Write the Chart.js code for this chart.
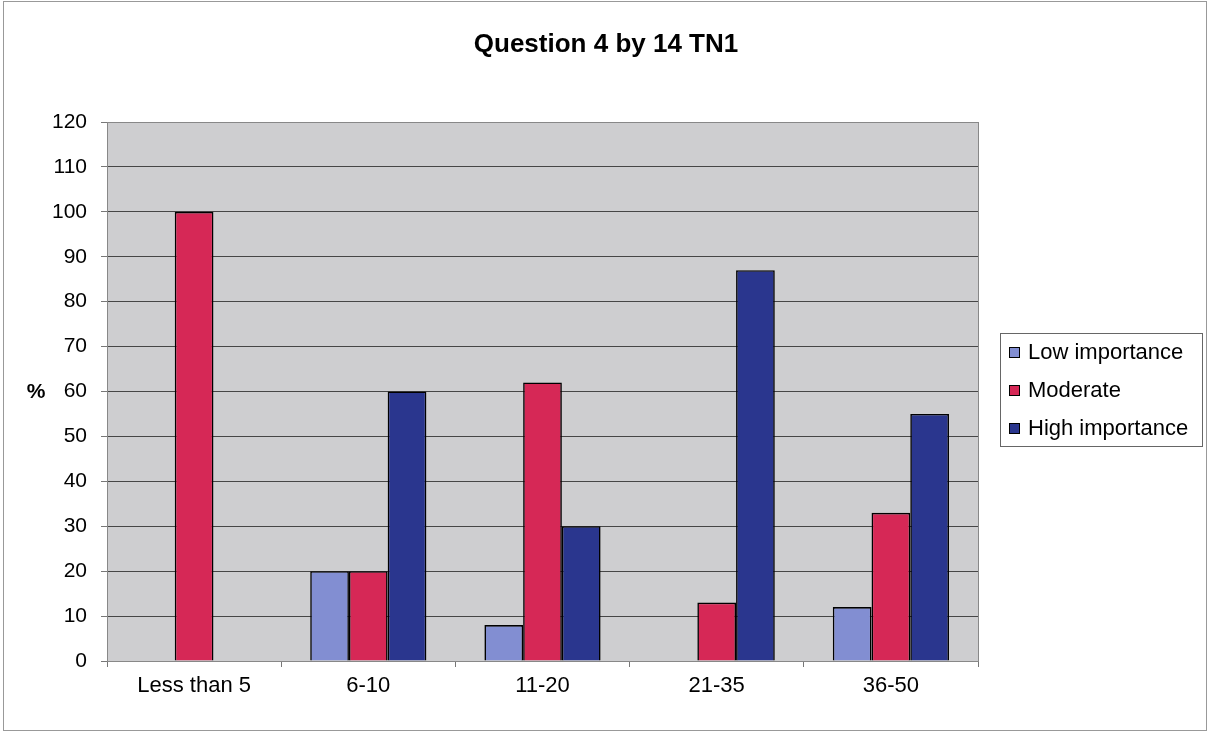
<!DOCTYPE html>
<html>
<head>
<meta charset="utf-8">
<script src="https://cdn.jsdelivr.net/npm/chart.js@4/dist/chart.umd.min.js"></script>
<style>
  html, body { margin: 0; padding: 0; background: #fff; }
  #wrap { width: 1210px; height: 734px; position: relative; }
</style>
</head>
<body>
<div id="wrap"><canvas id="chart" width="1210" height="734"></canvas></div>
<script>
const title = 'Question 4 by 14 TN1';
const categories = ['Less than 5', '6-10', '11-20', '21-35', '36-50'];
const seriesNames = ['Low importance', 'Moderate', 'High importance'];
const lowValues = [0, 20, 8, 0, 12];
const moderateValues = [100, 20, 62, 13, 33];
const highValues = [0, 60, 30, 87, 55];
const colors = ['rgb(130,142,210)', 'rgb(214,40,86)', 'rgb(42,54,142)'];

const font = "'Liberation Sans', Arial, sans-serif";

// background, plot area, title, legend and frame
const decor = {
  id: 'decor',
  beforeDraw(chart) {
    const c = chart.ctx, a = chart.chartArea;
    c.save();
    c.fillStyle = '#fff';
    c.fillRect(0, 0, chart.width, chart.height);
    c.fillStyle = 'rgb(206,206,208)';
    c.fillRect(a.left, a.top, a.right - a.left, a.bottom - a.top);
    c.restore();
  },
  afterDraw(chart) {
    const c = chart.ctx, a = chart.chartArea;
    c.save();
    c.strokeStyle = '#888';
    c.lineWidth = 1;
    c.strokeRect(a.left + 0.5, a.top + 0.5, a.right - a.left, a.bottom - a.top);
    // outer frame
    c.strokeStyle = '#999';
    c.strokeRect(3.5, 1.5, 1203, 729);
    // title
    c.fillStyle = '#000';
    c.font = 'bold 26px ' + font;
    c.textAlign = 'center';
    c.textBaseline = 'middle';
    c.fillText(title, 606, 45);
    // y axis title
    c.font = 'bold 21px ' + font;
    c.fillText('%', 36, 392);
    // legend
    c.strokeStyle = '#666';
    c.strokeRect(1000.5, 333.5, 202, 113);
    c.font = '22px ' + font;
    c.textAlign = 'left';
    chart.data.datasets.forEach((ds, i) => {
      const y = 352 + i * 38;
      c.fillStyle = ds.backgroundColor;
      c.fillRect(1009, y - 5, 11, 11);
      c.strokeStyle = '#000';
      c.strokeRect(1009.5, y - 4.5, 10, 10);
      c.fillStyle = '#000';
      c.fillText(ds.label, 1028, y + 1);
    });
    c.restore();
  }
};

const values = [lowValues, moderateValues, highValues];

new Chart(document.getElementById('chart'), {
  type: 'bar',
  data: {
    labels: categories,
    datasets: seriesNames.map((name, i) => ({
      label: name,
      data: values[i],
      backgroundColor: colors[i],
      borderColor: '#000',
      borderWidth: 1.6,
      borderSkipped: 'bottom',
      categoryPercentage: 0.667,
      barPercentage: 1.0
    }))
  },
  options: {
    responsive: false,
    animation: false,
    layout: { padding: { top: 122, right: 232, bottom: 0, left: 0 } },
    plugins: { legend: { display: false }, title: { display: false }, tooltip: { enabled: false } },
    scales: {
      x: {
        grid: { offset: true, drawOnChartArea: false, color: '#777', tickLength: 6 },
        border: { color: '#888' },
        ticks: { color: '#000', font: { family: font, size: 22 }, padding: 6 },
        afterFit(s) { s.height = 73; }
      },
      y: {
        min: 0,
        max: 120,
        ticks: { stepSize: 10, color: '#000', font: { family: font, size: 21 }, padding: 14 },
        grid: { color: 'rgb(70,70,70)', tickLength: 6, tickColor: '#777' },
        border: { color: '#888' },
        afterFit(s) { s.width = 107; }
      }
    }
  },
  plugins: [decor]
});
</script>
</body>
</html>
